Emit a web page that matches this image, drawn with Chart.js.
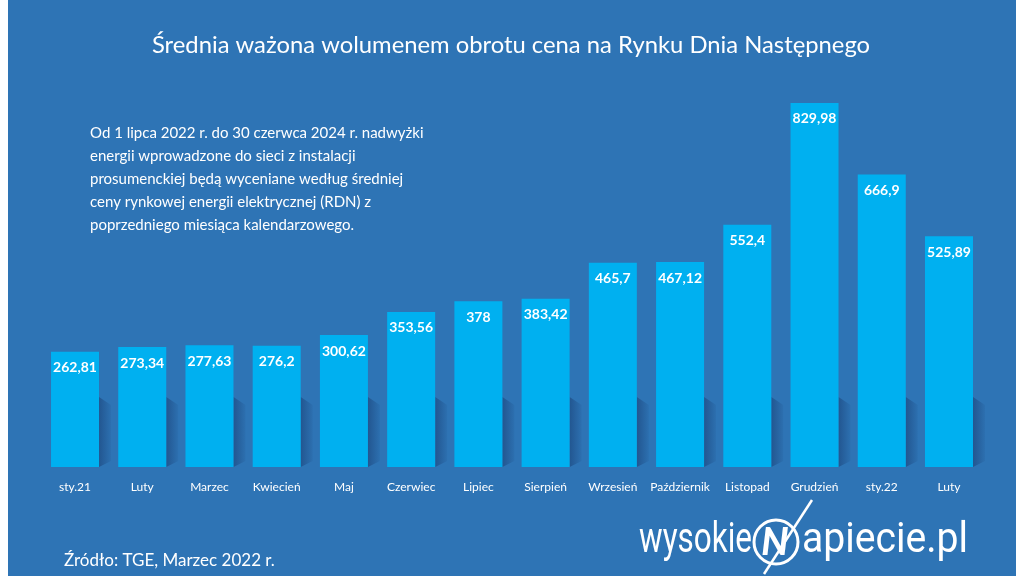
<!DOCTYPE html>
<html><head><meta charset="utf-8">
<script src="https://cdn.jsdelivr.net/npm/chart.js@4.4.1/dist/chart.umd.min.js"></script>
<style>html,body{margin:0;padding:0;background:#fff}#wrap{width:1024px;height:576px}</style>
</head><body><div id="wrap"><canvas id="c" width="1024" height="576"></canvas></div>
<script>
const categories = ["sty.21","Luty","Marzec","Kwiecień","Maj","Czerwiec","Lipiec","Sierpień","Wrzesień","Październik","Listopad","Grudzień","sty.22","Luty"];
const prices = [262.81,273.34,277.63,276.2,300.62,353.56,378,383.42,465.7,467.12,552.4,829.98,666.9,525.89];
const valueLabels = ["262,81","273,34","277,63","276,2","300,62","353,56","378","383,42","465,7","467,12","552,4","829,98","666,9","525,89"];
const titleText = "Średnia ważona wolumenem obrotu cena na Rynku Dnia Następnego";
const noteLines = ["Od 1 lipca 2022 r. do 30 czerwca 2024 r. nadwyżki","energii wprowadzone do sieci z instalacji","prosumenckiej będą wyceniane według średniej","ceny rynkowej energii elektrycznej (RDN) z","poprzedniego miesiąca kalendarzowego."];
const sourceText = "Źródło: TGE, Marzec 2022 r.";

const BG = "#2E74B5", BAR = "#00B0F0";
const FONT = "Lato, 'Open Sans', sans-serif";

const decor = {
  id: "decor",
  beforeDraw(chart) {
    const ctx = chart.ctx;
    ctx.save();
    ctx.fillStyle = "#ffffff"; ctx.fillRect(0,0,1024,576);
    ctx.fillStyle = BG; ctx.fillRect(8,0,1008,576);
    ctx.restore();
  },
  beforeDatasetsDraw(chart) {
    const ctx = chart.ctx, meta = chart.getDatasetMeta(0);
    const base = chart.scales.y.getPixelForValue(0);
    ctx.save();
    meta.data.forEach(el => {
      const right = el.x + el.width/2;
      const g = ctx.createLinearGradient(right, 0, right+14, 0);
      g.addColorStop(0, "rgba(20,50,100,0.45)");
      g.addColorStop(1, "rgba(20,50,100,0)");
      ctx.fillStyle = g;
      ctx.beginPath();
      ctx.moveTo(right, base-70);
      ctx.lineTo(right+12, base-62);
      ctx.lineTo(right+12, base-6);
      ctx.lineTo(right, base);
      ctx.closePath();
      ctx.fill();
    });
    ctx.restore();
  },
  afterDatasetsDraw(chart) {
    const ctx = chart.ctx, meta = chart.getDatasetMeta(0);
    ctx.save();
    ctx.fillStyle = "#ffffff";
    ctx.font = "bold 14px " + FONT;
    ctx.textAlign = "center"; ctx.textBaseline = "middle";
    meta.data.forEach((el, i) => {
      ctx.fillText(valueLabels[i], el.x, el.y + 16);
    });
    ctx.restore();
  },
  afterDraw(chart) {
    const ctx = chart.ctx;
    ctx.save();
    ctx.fillStyle = "#ffffff";
    ctx.textBaseline = "middle";
    // title
    ctx.font = "23.8px " + FONT;
    ctx.textAlign = "center";
    ctx.fillText(titleText, 511, 45);
    // note
    ctx.textAlign = "left";
    ctx.font = "15px " + FONT;
    noteLines.forEach((l, i) => ctx.fillText(l, 90, 133 + i*23));
    // source
    ctx.font = "17px " + FONT;
    ctx.fillText(sourceText, 64, 561);
    // logo
    ctx.font = "400 42px Roboto, " + FONT;
    ctx.textAlign = "left";
    const w1 = ctx.measureText("wysokie").width;
    ctx.save(); ctx.translate(639, 541); ctx.scale(113/w1, 1);
    ctx.fillText("wysokie", 0, 0); ctx.restore();
    const w2 = ctx.measureText("apiecie.pl").width;
    ctx.save(); ctx.translate(802, 541); ctx.scale(166/w2, 1);
    ctx.fillText("apiecie.pl", 0, 0); ctx.restore();
    // circle N
    ctx.strokeStyle = "#ffffff"; ctx.lineWidth = 3;
    ctx.beginPath(); ctx.arc(776, 542, 22, 0, Math.PI*2); ctx.stroke();
    ctx.font = "italic 900 38px " + FONT;
    ctx.textAlign = "center";
    ctx.fillText("N", 775, 543);
    ctx.lineWidth = 2.5;
    ctx.beginPath(); ctx.moveTo(812, 500); ctx.lineTo(764, 574); ctx.stroke();
    ctx.restore();
  }
};

new Chart(document.getElementById("c"), {
  type: "bar",
  data: {
    labels: categories,
    datasets: [{ data: prices, backgroundColor: BAR, borderWidth: 0, barPercentage: 0.714, categoryPercentage: 1 }]
  },
  options: {
    responsive: false, animation: false, devicePixelRatio: 1,
    layout: { padding: { left: 41.4, right: 41.4, top: 59, bottom: 68.6 } },
    plugins: { legend: { display: false }, tooltip: { enabled: false }, title: { display: false } },
    scales: {
      x: {
        grid: { display: false, drawTicks: false }, border: { display: false },
        ticks: { color: "#ffffff", font: { family: FONT, size: 12 }, padding: 13, maxRotation: 0, autoSkip: false }
      },
      y: { display: false, min: 0, max: 930 }
    }
  },
  plugins: [decor]
});
</script></body></html>
